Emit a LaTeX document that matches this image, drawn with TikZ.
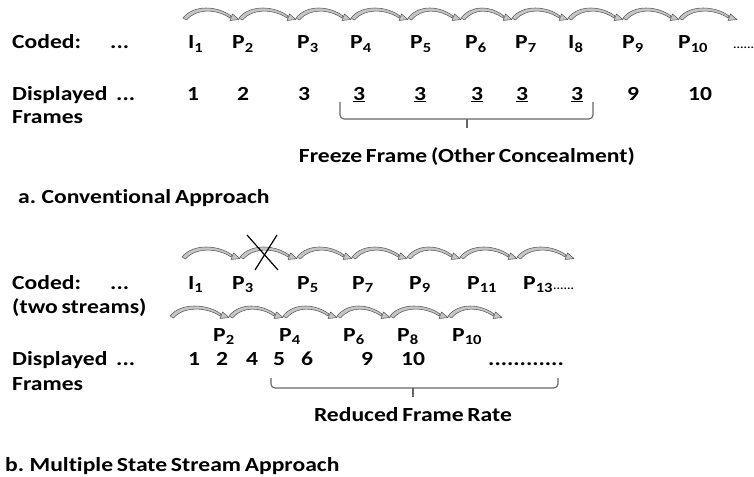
\documentclass[tikz,border=0pt]{standalone}
\usepackage{fontspec}
\setmainfont{Carlito}[FakeStretch=1.18, Ligatures=NoCommon, WordSpace=0.7]
\usetikzlibrary{calc}
\tikzset{
  lbl/.style={font=\fontsize{20}{24}\selectfont\bfseries, inner sep=0pt, anchor=base west},
  num/.style={lbl, anchor=base},
  tail/.style={font=\fontsize{11}{13}\selectfont\bfseries, inner sep=0pt, anchor=base west},
  ribbon/.style={fill=gray!45, draw=black!65, line width=0.55pt, line join=round},
  bracket/.style={draw=black!60, line width=1.1pt, rounded corners=4pt},
  cross/.style={draw=black, line width=1.2pt},
}
% curved ribbon arrow from one frame slot to the next
\newcommand{\hoparc}[2]{%
  \draw[ribbon] (#1) .. controls +(11,-14) and +(-13,-10) .. ($(#2)+(-8,-2)$)
     -- ($(#2)+(-9,0)$) .. controls +(-13,-9) and +(10,-12) .. ($(#1)+(3.5,2)$) -- cycle;
  \draw[ribbon] ($(#2)+(0,1.5)$) -- ($(#2)+(-6.5,-4)$) -- ($(#2)+(-9,2.5)$) -- cycle;
}
\begin{document}
\begin{tikzpicture}[x=1pt,y=-1pt]
\useasboundingbox (0,0) rectangle (754,476);

% ---------- a. conventional approach ----------
\node[lbl] (codedA) at (12,49) {Coded:};
\node[lbl] (dotsA) at (110,49) {...};
\node[lbl] (a1) at (188,49) {I\textsubscript{1}};
\node[lbl] (a2) at (232,49) {P\textsubscript{2}};
\node[lbl] (a3) at (297,49) {P\textsubscript{3}};
\node[lbl] (a4) at (350,49) {P\textsubscript{4}};
\node[lbl] (a5) at (410,49) {P\textsubscript{5}};
\node[lbl] (a6) at (465,49) {P\textsubscript{6}};
\node[lbl] (a7) at (515,49) {P\textsubscript{7}};
\node[lbl] (a8) at (568,49) {I\textsubscript{8}};
\node[lbl] (a9) at (622,49) {P\textsubscript{9}};
\node[lbl] (a10) at (678,49) {P\textsubscript{10}};
\node[tail] (a11) at (733,49) {......};

% prediction chain above the coded frames
\foreach \n/\x in {0/183,1/239,2/296,3/351,4/408,5/461,6/512,7/568,8/623,9/679,10/737}
  \coordinate (ha\n) at (\x,18);
\foreach \i in {0,...,9}{
  \pgfmathtruncatemacro{\j}{\i+1}
  \hoparc{ha\i}{ha\j}
}

\node[lbl] (dispA) at (12,100) {Displayed};
\node[lbl] (ellA) at (116,100) {...};
\node[lbl] (framesA) at (12,124) {Frames};
\node[num] (d1) at (193,100) {1};
\node[num] (d2) at (243,100) {2};
\node[num] (d3) at (304,100) {3};
\node[num] (d4) at (359,100) {\underline{3}};
\node[num] (d5) at (420,100) {\underline{3}};
\node[num] (d6) at (477,100) {\underline{3}};
\node[num] (d7) at (522,100) {\underline{3}};
\node[num] (d8) at (577,100) {\underline{3}};
\node[num] (d9) at (633,100) {9};
\node[num] (d10) at (700,100) {10};

\coordinate (braAL) at (340,102);
\coordinate (braAR) at (593,102);
\coordinate (braAM) at (467,119);
\coordinate (braAT) at (467,128);
\draw[bracket] (braAL) |- (braAM) -| (braAR);
\draw[bracket] (braAM) -- (braAT);
\node[num] (freeze) at (467,162) {Freeze Frame (Other Concealment)};

\node[lbl] (capA) at (18,203) {a. Conventional Approach};

% ---------- b. multiple state stream approach ----------
\node[lbl] (codedB) at (12,289) {Coded:};
\node[lbl] (dotsB) at (110,289) {...};
\node[lbl] (twoB) at (12,313) {(two streams)};
\node[lbl] (b1) at (188,289) {I\textsubscript{1}};
\node[lbl] (b3) at (232,289) {P\textsubscript{3}};
\node[lbl] (b5) at (297,289) {P\textsubscript{5}};
\node[lbl] (b7) at (352,289) {P\textsubscript{7}};
\node[lbl] (b9) at (409,289) {P\textsubscript{9}};
\node[lbl] (b11) at (467,289) {P\textsubscript{11}};
\node[lbl] (b13) at (523,289) {P\textsubscript{13}};
\node[tail] (b15) at (553,289) {......};

% odd stream chain
\foreach \n/\x in {0/182,1/240,2/297,3/352,4/407,5/460,6/517,7/574}
  \coordinate (hb\n) at (\x,257);
\foreach \i in {0,...,6}{
  \pgfmathtruncatemacro{\j}{\i+1}
  \hoparc{hb\i}{hb\j}
}
% lost frame
\coordinate (xa) at (247,235);
\coordinate (xb) at (278,270);
\coordinate (xc) at (277,235);
\coordinate (xd) at (255,270);
\draw[cross] (xa) -- (xb);
\draw[cross] (xc) -- (xd);

% even stream chain
\foreach \n/\x in {0/170,1/229,2/283,3/337,4/390,5/448,6/502}
  \coordinate (hc\n) at (\x,316);
\foreach \i in {0,...,5}{
  \pgfmathtruncatemacro{\j}{\i+1}
  \hoparc{hc\i}{hc\j}
}

\node[lbl] (e2) at (213,341) {P\textsubscript{2}};
\node[lbl] (e4) at (279,341) {P\textsubscript{4}};
\node[lbl] (e6) at (343,341) {P\textsubscript{6}};
\node[lbl] (e8) at (397,341) {P\textsubscript{8}};
\node[lbl] (e10) at (452,341) {P\textsubscript{10}};

\node[lbl] (dispB) at (12,365) {Displayed};
\node[lbl] (ellB) at (116,365) {...};
\node[lbl] (framesB) at (12,390) {Frames};
\node[num] (f1) at (194,365) {1};
\node[num] (f2) at (222,365) {2};
\node[num] (f4) at (252,365) {4};
\node[num] (f5) at (279,365) {5};
\node[num] (f6) at (307,365) {6};
\node[num] (f9) at (367,365) {9};
\node[num] (f10) at (413,365) {10};
\node[lbl] (fdots) at (488,365) {............};

\coordinate (braBL) at (271,378);
\coordinate (braBR) at (558,378);
\coordinate (braBM) at (413,388);
\coordinate (braBT) at (413,397);
\draw[bracket] (braBL) |- (braBM) -| (braBR);
\draw[bracket] (braBM) -- (braBT);
\node[num] (reduced) at (413,421) {Reduced Frame Rate};

\node[lbl] (capB) at (5,471) {b. Multiple State Stream Approach};
\end{tikzpicture}
\end{document}
